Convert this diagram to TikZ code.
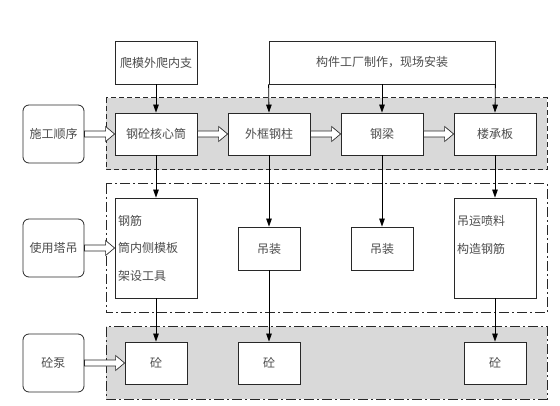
\documentclass[tikz,border=0pt]{standalone}
\usepackage{fontspec}
\newfontfamily\cjk{Noto Sans CJK SC}
\usetikzlibrary{arrows.meta,calc}

\definecolor{bandgray}{RGB}{217,217,217}
\definecolor{linegray}{RGB}{40,40,40}

% hollow block arrow between two named nodes
\newcommand{\fatarrow}[2]{%
  \draw[fatline] ($(#1.east)+(0,3pt)$) -- ($(#2.west)+(-9pt,3pt)$)
    -- ($(#2.west)+(-9pt,7.5pt)$) -- (#2.west) -- ($(#2.west)+(-9pt,-7.5pt)$)
    -- ($(#2.west)+(-9pt,-3pt)$) -- ($(#1.east)+(0,-3pt)$) -- cycle;}

\begin{document}
\begin{tikzpicture}[x=1pt,y=-1pt,
  >={Triangle[length=8pt,width=5.5pt]},
  box/.style={draw=linegray,fill=white,line width=0.8pt,inner sep=0pt,
    text=black!70,font=\cjk\fontsize{12}{14}\selectfont},
  side/.style={box,rounded corners=6pt,minimum width=61pt,minimum height=58pt},
  task/.style={box,minimum width=82pt,minimum height=42pt},
  small/.style={box,minimum width=62pt,minimum height=43pt},
  tall/.style={box,minimum width=82pt,minimum height=100pt,text width=76pt,
    align=left,font=\cjk\fontsize{12}{27.5}\selectfont},
  link/.style={->,draw=black,line width=0.8pt},
  fatline/.style={draw=linegray,fill=white,line width=0.7pt},
  dashband/.style={draw=linegray,fill=bandgray,line width=1pt,dash pattern=on 5pt off 3pt},
  dotband/.style={draw=linegray,line width=1pt,dash pattern=on 10pt off 3pt on 2pt off 3pt}]

  \useasboundingbox (0,0) rectangle (560,406);

  % bands
  \path[dashband] (106,98) rectangle (547,170);
  \path[dotband,fill=white] (106,184) rectangle (547,313);
  \path[dotband,fill=bandgray] (106,327) rectangle (547,399);

  % top boxes
  \node[task,minimum height=43pt] (climb) at (156,62.5) {爬模外爬内支};
  \node[task,minimum width=226pt,minimum height=43pt] (factory) at (382,62.5) {构件工厂制作，现场安装};

  % left labels
  \node[side] (order) at (53.5,134) {施工顺序};
  \node[side] (crane) at (53.5,248) {使用塔吊};
  \node[side] (pump) at (53.5,363) {砼泵};

  % row 1
  \node[task] (core) at (156,134) {钢砼核心筒};
  \node[task] (column) at (269,134) {外框钢柱};
  \node[task] (beam) at (382,134) {钢梁};
  \node[task] (deck) at (495,134) {楼承板};

  % row 2
  \node[tall] (rebar) at (156,248) {钢筋\\筒内侧模板\\架设工具};
  \node[small] (liftA) at (269,248.5) {吊装};
  \node[small] (liftB) at (382,248.5) {吊装};
  \node[tall] (spray) at (495,248) {吊运喷料\\构造钢筋\\\mbox{}};

  % row 3
  \node[small,minimum height=42pt] (concA) at (156,363) {砼};
  \node[small,minimum height=42pt] (concB) at (269,363) {砼};
  \node[small,minimum height=42pt] (concC) at (495,363) {砼};

  % connectors
  \draw[link] (climb) -- (core);
  \draw[link] (factory.south west) -- (column.north);
  \draw[link] (factory) -- (beam);
  \draw[link] (factory.south east) -- (deck.north);
  \draw[link] (core) -- (rebar);
  \draw[link] (rebar) -- (concA);
  \draw[link] (column) -- (liftA);
  \draw[link] (liftA) -- (concB);
  \draw[link] (beam) -- (liftB);
  \draw[link] (deck) -- (spray);
  \draw[link] (spray) -- (concC);

  \fatarrow{order}{core}
  \fatarrow{core}{column}
  \fatarrow{column}{beam}
  \fatarrow{beam}{deck}
  \fatarrow{crane}{rebar}
  \fatarrow{pump}{concA}
\end{tikzpicture}
\end{document}
